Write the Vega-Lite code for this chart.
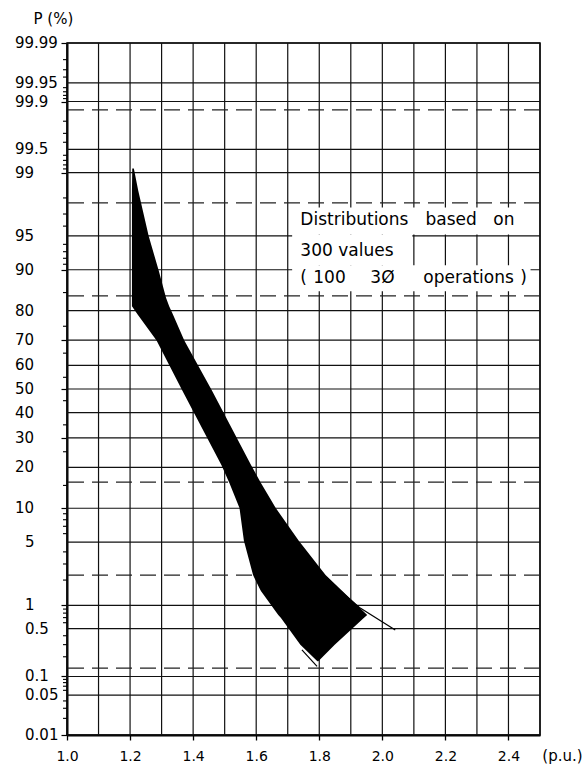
{
  "$schema": "https://vega.github.io/schema/vega-lite/v6.json",
  "width": 473,
  "height": 692,
  "autosize": "none",
  "padding": {"left": 67, "top": 43, "right": 45, "bottom": 30},
  "background": "white",
  "config": {
    "view": {"stroke": "#000", "strokeWidth": 1.5},
    "font": "DejaVu Sans"
  },
  "datasets": {
    "xLines": [
      {"pu": 1.0}, {"pu": 1.1}, {"pu": 1.2}, {"pu": 1.3}, {"pu": 1.4}, {"pu": 1.5},
      {"pu": 1.6}, {"pu": 1.7}, {"pu": 1.8}, {"pu": 1.9}, {"pu": 2.0}, {"pu": 2.1},
      {"pu": 2.2}, {"pu": 2.3}, {"pu": 2.4}, {"pu": 2.5}
    ],
    "percentLines": [
      {"p": 99.99, "probit": 3.719}, {"p": 99.95, "probit": 3.2905}, {"p": 99.9, "probit": 3.0902},
      {"p": 99.5, "probit": 2.5758}, {"p": 99, "probit": 2.3263}, {"p": 95, "probit": 1.6449},
      {"p": 90, "probit": 1.2816}, {"p": 80, "probit": 0.8416}, {"p": 70, "probit": 0.5244},
      {"p": 60, "probit": 0.2533}, {"p": 50, "probit": 0}, {"p": 40, "probit": -0.2533},
      {"p": 30, "probit": -0.5244}, {"p": 20, "probit": -0.8416}, {"p": 10, "probit": -1.2816},
      {"p": 5, "probit": -1.6449}, {"p": 1, "probit": -2.3263}, {"p": 0.5, "probit": -2.5758},
      {"p": 0.1, "probit": -3.0902}, {"p": 0.05, "probit": -3.2905}, {"p": 0.01, "probit": -3.719}
    ],
    "minorTicks": [
      {"p": 99.98, "probit": 3.5401}, {"p": 99.97, "probit": 3.4316}, {"p": 99.96, "probit": 3.3528},
      {"p": 99.94, "probit": 3.2389}, {"p": 99.93, "probit": 3.1947}, {"p": 99.92, "probit": 3.1559},
      {"p": 99.91, "probit": 3.1214}, {"p": 99.8, "probit": 2.8782}, {"p": 99.7, "probit": 2.7478},
      {"p": 99.6, "probit": 2.6521}, {"p": 99.4, "probit": 2.5121}, {"p": 99.3, "probit": 2.4573},
      {"p": 99.2, "probit": 2.4089}, {"p": 99.1, "probit": 2.3656}, {"p": 98, "probit": 2.0537},
      {"p": 97, "probit": 1.8808}, {"p": 96, "probit": 1.7507}, {"p": 94, "probit": 1.5548},
      {"p": 93, "probit": 1.4758}, {"p": 92, "probit": 1.4051}, {"p": 91, "probit": 1.3408},
      {"p": 85, "probit": 1.0364}, {"p": 75, "probit": 0.6745}, {"p": 65, "probit": 0.3853},
      {"p": 55, "probit": 0.1257}, {"p": 45, "probit": -0.1257}, {"p": 35, "probit": -0.3853},
      {"p": 25, "probit": -0.6745}, {"p": 15, "probit": -1.0364}, {"p": 9, "probit": -1.3408},
      {"p": 8, "probit": -1.4051}, {"p": 7, "probit": -1.4758}, {"p": 6, "probit": -1.5548},
      {"p": 4, "probit": -1.7507}, {"p": 3, "probit": -1.8808}, {"p": 2, "probit": -2.0537},
      {"p": 0.9, "probit": -2.3656}, {"p": 0.8, "probit": -2.4089}, {"p": 0.7, "probit": -2.4573},
      {"p": 0.6, "probit": -2.5121}, {"p": 0.4, "probit": -2.6521}, {"p": 0.3, "probit": -2.7478},
      {"p": 0.2, "probit": -2.8782}, {"p": 0.09, "probit": -3.1214}, {"p": 0.08, "probit": -3.1559},
      {"p": 0.07, "probit": -3.1947}, {"p": 0.06, "probit": -3.2389}, {"p": 0.04, "probit": -3.3528},
      {"p": 0.03, "probit": -3.4316}, {"p": 0.02, "probit": -3.5401}
    ],
    "sigmaLines": [
      {"sigma": 3, "probit": 3}, {"sigma": 2, "probit": 2}, {"sigma": 1, "probit": 1},
      {"sigma": -1, "probit": -1}, {"sigma": -2, "probit": -2}, {"sigma": -3, "probit": -3}
    ],
    "noteBox": [
      {"pu": 1.714, "pu2": 2.47, "probit": 1.95, "probit2": 1.66},
      {"pu": 1.714, "pu2": 2.095, "probit": 1.66, "probit2": 1.33},
      {"pu": 1.714, "pu2": 2.47, "probit": 1.33, "probit2": 1.05}
    ],
    "note": [
      {"word": "Distributions", "pu": 1.74, "probit": 1.817},
      {"word": "based", "pu": 2.137, "probit": 1.817},
      {"word": "on", "pu": 2.352, "probit": 1.817},
      {"word": "300 values", "pu": 1.74, "probit": 1.484},
      {"word": "(", "pu": 1.74, "probit": 1.194},
      {"word": "100", "pu": 1.781, "probit": 1.194},
      {"word": "3Ø", "pu": 1.962, "probit": 1.194},
      {"word": "operations", "pu": 2.13, "probit": 1.194},
      {"word": ")", "pu": 2.437, "probit": 1.194}
    ],
    "band": [
      {"probit": 2.37, "left": 1.207, "right": 1.212},
      {"probit": 2.13, "left": 1.206, "right": 1.226},
      {"probit": 1.645, "left": 1.206, "right": 1.259},
      {"probit": 1.27, "left": 1.206, "right": 1.291},
      {"probit": 0.98, "left": 1.206, "right": 1.314},
      {"probit": 0.89, "left": 1.206, "right": 1.324},
      {"probit": 0.8, "left": 1.224, "right": 1.336},
      {"probit": 0.52, "left": 1.284, "right": 1.372},
      {"probit": -0.02, "left": 1.366, "right": 1.46},
      {"probit": -0.82, "left": 1.49, "right": 1.584},
      {"probit": -1.01, "left": 1.515, "right": 1.615},
      {"probit": -1.28, "left": 1.547, "right": 1.662},
      {"probit": -1.63, "left": 1.561, "right": 1.735},
      {"probit": -2.0, "left": 1.59, "right": 1.82},
      {"probit": -2.14, "left": 1.61, "right": 1.863},
      {"probit": -2.17, "left": 1.615, "right": 1.873},
      {"probit": -2.43, "left": 1.67, "right": 1.952},
      {"probit": -2.46, "left": 1.678, "right": 1.942},
      {"probit": -2.75, "left": 1.74, "right": 1.849},
      {"probit": -2.925, "left": 1.794, "right": 1.797}
    ],
    "tails": [
      {"piece": "upper", "pu": 1.825, "probit": -2.03},
      {"piece": "upper", "pu": 1.857, "probit": -2.14},
      {"piece": "upper", "pu": 1.93, "probit": -2.355},
      {"piece": "upper", "pu": 2.041, "probit": -2.591},
      {"piece": "lower", "pu": 1.745, "probit": -2.803},
      {"piece": "lower", "pu": 1.793, "probit": -2.982}
    ]
  },
  "layer": [
    {
      "data": {"name": "xLines"},
      "mark": {"type": "rule", "color": "#111", "strokeWidth": 1.2},
      "encoding": {
        "x": {
          "field": "pu",
          "type": "quantitative",
          "title": "(p.u.)",
          "scale": {"domain": [1.0, 2.5], "nice": false, "zero": false},
          "axis": {
            "values": [1.0, 1.2, 1.4, 1.6, 1.8, 2.0, 2.2, 2.4],
            "format": ".1f",
            "titleX": 495,
            "titleY": 20,
            "titleAlign": "center",
            "titleBaseline": "middle",
            "titleFontSize": 15,
            "titleFontWeight": "normal",
            "titleColor": "#000",
            "labelFontSize": 14,
            "labelColor": "#000",
            "labelPadding": 9,
            "labelFlush": false,
            "labelOverlap": false,
            "tickSize": 5,
            "tickColor": "#000",
            "tickWidth": 1.3,
            "domainColor": "#000",
            "domainWidth": 2,
            "grid": false
          }
        }
      }
    },
    {
      "data": {"name": "percentLines"},
      "mark": {"type": "rule", "color": "#111", "strokeWidth": 1.2},
      "encoding": {
        "y": {
          "field": "probit",
          "type": "quantitative",
          "title": "P (%)",
          "scale": {"domain": [-3.719, 3.719], "nice": false, "zero": false},
          "axis": {
            "values": [3.719, 3.2905, 3.0902, 2.5758, 2.3263, 1.6449, 1.2816, 0.8416, 0.5244, 0.2533, 0, -0.2533, -0.5244, -0.8416, -1.2816, -1.6449, -2.3263, -2.5758, -3.0902, -3.2905, -3.719],
            "labels": false,
            "titleAngle": 0,
            "titleX": -34,
            "titleY": -25,
            "titleAlign": "left",
            "titleBaseline": "middle",
            "titleFontSize": 15,
            "titleFontWeight": "normal",
            "titleColor": "#000",
            "tickSize": 6,
            "tickColor": "#000",
            "tickWidth": 1.2,
            "domainColor": "#000",
            "domainWidth": 2,
            "grid": false
          }
        }
      }
    },
    {
      "data": {"name": "percentLines"},
      "transform": [{"filter": "datum.p >= 10"}],
      "mark": {"type": "text", "align": "left", "baseline": "middle", "fontSize": 15, "font": "DejaVu Sans", "color": "#000"},
      "encoding": {
        "y": {"field": "probit", "type": "quantitative", "title": "P (%)"},
        "x": {"datum": 0.835, "type": "quantitative"},
        "text": {"field": "p", "type": "quantitative", "format": "~g"}
      }
    },
    {
      "data": {"name": "percentLines"},
      "transform": [{"filter": "datum.p < 10"}],
      "mark": {"type": "text", "align": "left", "baseline": "middle", "fontSize": 15, "font": "DejaVu Sans", "color": "#000"},
      "encoding": {
        "y": {"field": "probit", "type": "quantitative", "title": "P (%)"},
        "x": {"datum": 0.867, "type": "quantitative"},
        "text": {"field": "p", "type": "quantitative", "format": "~g"}
      }
    },
    {
      "data": {"name": "minorTicks"},
      "mark": {"type": "rule", "color": "#000", "strokeWidth": 1.1},
      "encoding": {
        "y": {"field": "probit", "type": "quantitative", "title": "P (%)"},
        "x": {"datum": 0.9873, "type": "quantitative"},
        "x2": {"datum": 1.0}
      }
    },
    {
      "data": {"name": "sigmaLines"},
      "mark": {"type": "rule", "color": "#222", "strokeWidth": 1.2, "strokeDash": [16, 8]},
      "encoding": {
        "y": {"field": "probit", "type": "quantitative", "title": "P (%)"}
      }
    },
    {
      "data": {"name": "noteBox"},
      "mark": {"type": "rect", "color": "white", "opacity": 1},
      "encoding": {
        "x": {"field": "pu", "type": "quantitative", "title": "(p.u.)"},
        "x2": {"field": "pu2"},
        "y": {"field": "probit", "type": "quantitative", "title": "P (%)"},
        "y2": {"field": "probit2"}
      }
    },
    {
      "data": {"name": "note"},
      "mark": {"type": "text", "align": "left", "baseline": "middle", "fontSize": 17, "font": "DejaVu Sans", "color": "#000"},
      "encoding": {
        "x": {"field": "pu", "type": "quantitative", "title": "(p.u.)"},
        "y": {"field": "probit", "type": "quantitative", "title": "P (%)"},
        "text": {"field": "word"}
      }
    },
    {
      "data": {"name": "band"},
      "mark": {"type": "area", "orient": "horizontal", "color": "#000", "opacity": 1},
      "encoding": {
        "y": {"field": "probit", "type": "quantitative", "title": "P (%)"},
        "x": {"field": "left", "type": "quantitative", "title": "(p.u.)"},
        "x2": {"field": "right"}
      }
    },
    {
      "data": {"name": "tails"},
      "mark": {"type": "line", "color": "#000", "strokeWidth": 1.2},
      "encoding": {
        "x": {"field": "pu", "type": "quantitative", "title": "(p.u.)"},
        "y": {"field": "probit", "type": "quantitative", "title": "P (%)"},
        "detail": {"field": "piece"}
      }
    }
  ]
}
